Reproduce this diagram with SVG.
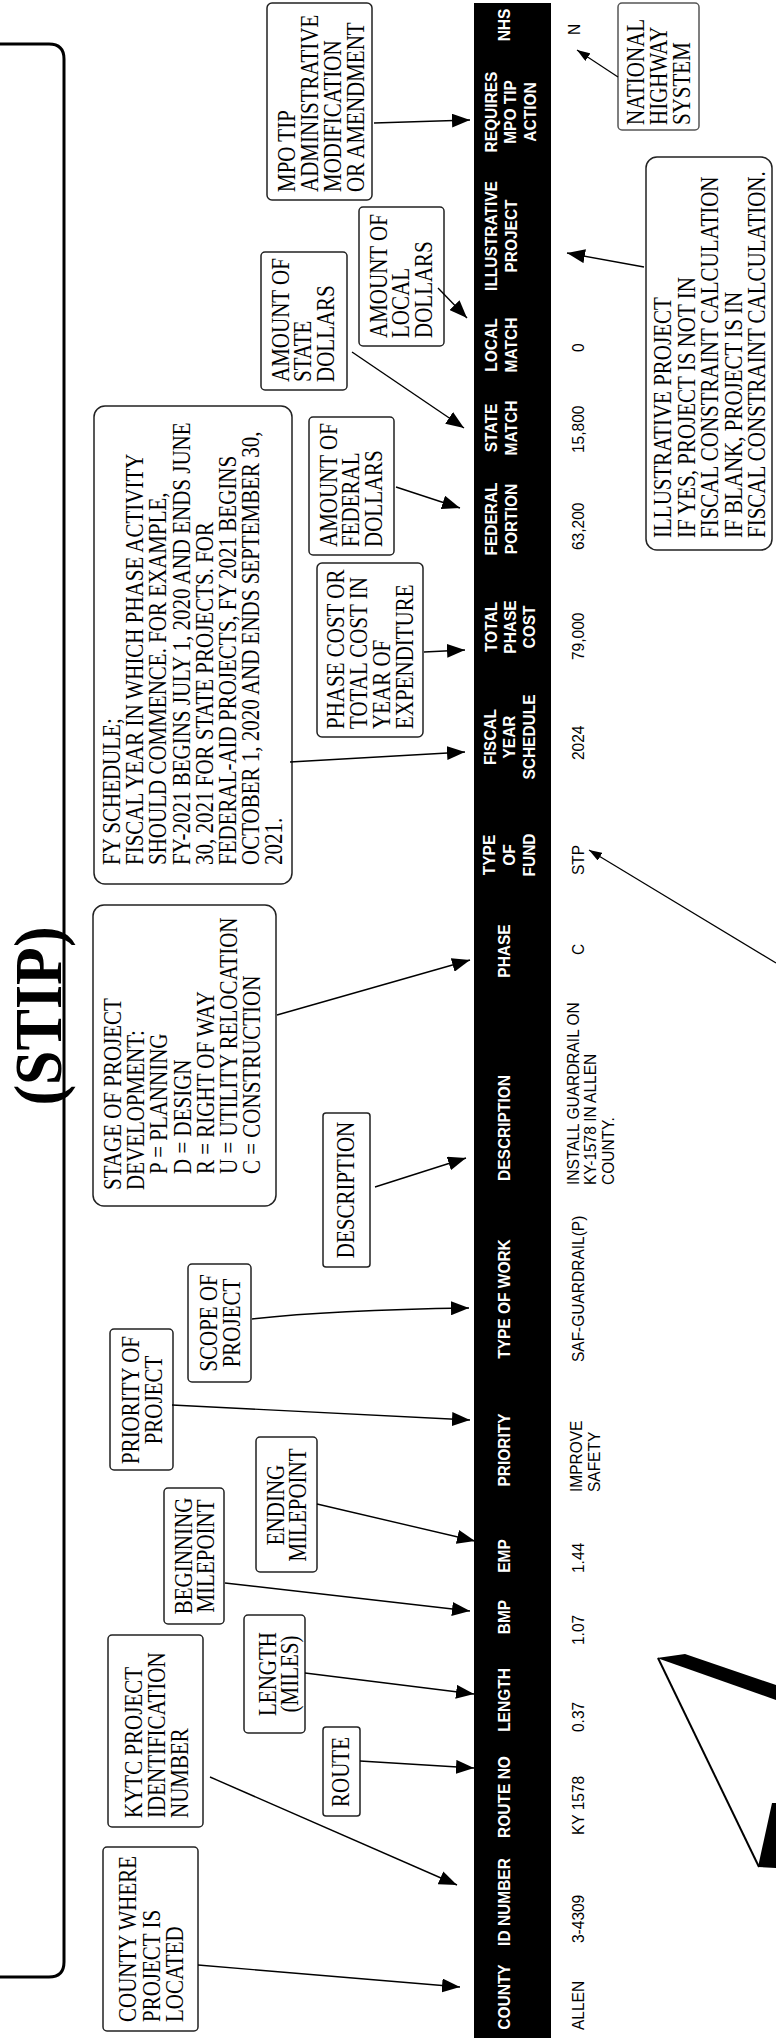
<svg xmlns="http://www.w3.org/2000/svg" width="776" height="2038" viewBox="0 0 776 2038">
<style>
.box{fill:#fff;stroke:#222;stroke-width:1.5}
.cl{font-family:"Liberation Serif","Times New Roman",serif;font-size:21px;fill:#000}
.hd{font-family:"Liberation Sans",Arial,sans-serif;font-size:15.5px;font-weight:bold;fill:#fff;text-anchor:middle}
.dt{font-family:"Liberation Sans",Arial,sans-serif;font-size:15.5px;fill:#000}
.cn{fill:none;stroke:#000;stroke-width:1.4}
.thin{fill:none;stroke:#000;stroke-width:1.2}
.mid{text-anchor:middle}
</style>
<defs>
<marker id="ah" markerUnits="userSpaceOnUse" markerWidth="18" markerHeight="14" refX="18" refY="7" orient="auto"><path d="M0,0 L18,7 L0,14 z" fill="#000"/></marker>
<marker id="ahs" markerUnits="userSpaceOnUse" markerWidth="13" markerHeight="9" refX="13" refY="4.5" orient="auto"><path d="M0,0 L13,4.5 L0,9 z" fill="#000"/></marker>
</defs>
<rect width="776" height="2038" fill="#fff"/>

<g id="frame">
<path d="M0,44 H49 Q64,44 64,59 V1962 Q64,1977 49,1977 H0" fill="none" stroke="#000" stroke-width="3"/>
<text transform="translate(61,1016) rotate(-90) scale(1,1.08)" text-anchor="middle" font-family="Liberation Serif,'Times New Roman',serif" font-weight="bold" font-size="62">(STIP)</text>
</g>

<g id="header-bar">
<rect x="474" y="3" width="77" height="2035" fill="#000"/>
<text class="hd" transform="translate(510,1997) rotate(-90) scale(1,1.1)">COUNTY</text>
<text class="hd" transform="translate(510,1902) rotate(-90) scale(1,1.1)">ID NUMBER</text>
<text class="hd" transform="translate(510,1797) rotate(-90) scale(1,1.1)">ROUTE NO</text>
<text class="hd" transform="translate(510,1700) rotate(-90) scale(1,1.1)">LENGTH</text>
<text class="hd" transform="translate(510,1617) rotate(-90) scale(1,1.1)">BMP</text>
<text class="hd" transform="translate(510,1556) rotate(-90) scale(1,1.1)">EMP</text>
<text class="hd" transform="translate(510,1450) rotate(-90) scale(1,1.1)">PRIORITY</text>
<text class="hd" transform="translate(510,1299) rotate(-90) scale(1,1.1)">TYPE OF WORK</text>
<text class="hd" transform="translate(510,1128) rotate(-90) scale(1,1.1)">DESCRIPTION</text>
<text class="hd" transform="translate(510,951) rotate(-90) scale(1,1.1)">PHASE</text>
<text class="hd" transform="translate(495,855) rotate(-90) scale(1,1.1)"><tspan x="0">TYPE</tspan><tspan x="0" dy="18.2">OF</tspan><tspan x="0" dy="18.2">FUND</tspan></text>
<text class="hd" transform="translate(496,737) rotate(-90) scale(1,1.1)"><tspan x="0">FISCAL</tspan><tspan x="0" dy="17.7">YEAR</tspan><tspan x="0" dy="17.7">SCHEDULE</tspan></text>
<text class="hd" transform="translate(497,627) rotate(-90) scale(1,1.1)"><tspan x="0">TOTAL</tspan><tspan x="0" dy="17.3">PHASE</tspan><tspan x="0" dy="17.3">COST</tspan></text>
<text class="hd" transform="translate(497,519) rotate(-90) scale(1,1.1)"><tspan x="0">FEDERAL</tspan><tspan x="0" dy="18.2">PORTION</tspan></text>
<text class="hd" transform="translate(497,428) rotate(-90) scale(1,1.1)"><tspan x="0">STATE</tspan><tspan x="0" dy="18.2">MATCH</tspan></text>
<text class="hd" transform="translate(497,345) rotate(-90) scale(1,1.1)"><tspan x="0">LOCAL</tspan><tspan x="0" dy="18.2">MATCH</tspan></text>
<text class="hd" transform="translate(497,236) rotate(-90) scale(1,1.1)"><tspan x="0">ILLUSTRATIVE</tspan><tspan x="0" dy="18.2">PROJECT</tspan></text>
<text class="hd" transform="translate(497,112) rotate(-90) scale(1,1.1)"><tspan x="0">REQUIRES</tspan><tspan x="0" dy="17.7">MPO TIP</tspan><tspan x="0" dy="17.7">ACTION</tspan></text>
<text class="hd" transform="translate(510,25) rotate(-90) scale(1,1.1)">NHS</text>
</g>

<g id="data-row">
<text class="dt" transform="translate(584,2030) rotate(-90) scale(1,1.1)">ALLEN</text>
<text class="dt" transform="translate(584,1943) rotate(-90) scale(1,1.1)">3-4309</text>
<text class="dt" transform="translate(584,1835) rotate(-90) scale(1,1.1)">KY 1578</text>
<text class="dt" transform="translate(584,1732) rotate(-90) scale(1,1.1)">0.37</text>
<text class="dt" transform="translate(584,1645) rotate(-90) scale(1,1.1)">1.07</text>
<text class="dt" transform="translate(584,1573) rotate(-90) scale(1,1.1)">1.44</text>
<text class="dt" transform="translate(582,1492) rotate(-90) scale(1,1.1)"><tspan x="0">IMPROVE</tspan><tspan x="0" dy="16.4">SAFETY</tspan></text>
<text class="dt" transform="translate(584,1362) rotate(-90) scale(1,1.1)">SAF-GUARDRAIL(P)</text>
<text class="dt" transform="translate(579,1185) rotate(-90) scale(1,1.1)"><tspan x="0">INSTALL GUARDRAIL ON</tspan><tspan x="0" dy="15.9">KY-1578 IN ALLEN</tspan><tspan x="0" dy="15.9">COUNTY.</tspan></text>
<text class="dt" transform="translate(584,955) rotate(-90) scale(1,1.1)">C</text>
<text class="dt" transform="translate(584,875) rotate(-90) scale(1,1.1)">STP</text>
<text class="dt" transform="translate(584,760) rotate(-90) scale(1,1.1)">2024</text>
<text class="dt" transform="translate(584,660) rotate(-90) scale(1,1.1)">79,000</text>
<text class="dt" transform="translate(584,550) rotate(-90) scale(1,1.1)">63,200</text>
<text class="dt" transform="translate(584,453) rotate(-90) scale(1,1.1)">15,800</text>
<text class="dt" transform="translate(584,352) rotate(-90) scale(1,1.1)">0</text>
<text class="dt" transform="translate(580,35) rotate(-90) scale(1,1.1)">N</text>
</g>

<g id="note-county">
<rect class="box" x="103" y="1847" width="95" height="184" rx="4"/>
<text class="cl" transform="translate(136,2022) rotate(-90) scale(1,1.17)"><tspan x="0">COUNTY WHERE</tspan><tspan x="0" dy="20.1">PROJECT IS</tspan><tspan x="0" dy="20.1">LOCATED</tspan></text>
</g>
<g id="note-kytc">
<rect class="box" x="108" y="1635" width="95" height="192" rx="4"/>
<text class="cl" transform="translate(142,1818) rotate(-90) scale(1,1.17)"><tspan x="0">KYTC PROJECT</tspan><tspan x="0" dy="19.66">IDENTIFICATION</tspan><tspan x="0" dy="19.66">NUMBER</tspan></text>
</g>
<g id="note-route">
<rect class="box" x="323" y="1727" width="37" height="89" rx="3"/>
<text class="cl mid" transform="translate(349,1772) rotate(-90) scale(1,1.17)">ROUTE</text>
</g>
<g id="note-length">
<rect class="box" x="244" y="1615" width="61" height="118" rx="4"/>
<text class="cl mid" transform="translate(276,1674) rotate(-90) scale(1,1.17)"><tspan x="0">LENGTH</tspan><tspan x="0" dy="18.8">(MILES)</tspan></text>
</g>
<g id="note-bmp">
<rect class="box" x="164" y="1488" width="60" height="136" rx="4"/>
<text class="cl mid" transform="translate(192,1556) rotate(-90) scale(1,1.17)"><tspan x="0">BEGINNING</tspan><tspan x="0" dy="18.8">MILEPOINT</tspan></text>
</g>
<g id="note-emp">
<rect class="box" x="256" y="1437" width="61" height="135" rx="4"/>
<text class="cl mid" transform="translate(284,1505) rotate(-90) scale(1,1.17)"><tspan x="0">ENDING</tspan><tspan x="0" dy="18.8">MILEPOINT</tspan></text>
</g>
<g id="note-priority">
<rect class="box" x="110" y="1329" width="63" height="141" rx="4"/>
<text class="cl mid" transform="translate(139,1400) rotate(-90) scale(1,1.17)"><tspan x="0">PRIORITY OF</tspan><tspan x="0" dy="19.66">PROJECT</tspan></text>
</g>
<g id="note-scope">
<rect class="box" x="188" y="1264" width="63" height="118" rx="4"/>
<text class="cl mid" transform="translate(217,1323) rotate(-90) scale(1,1.17)"><tspan x="0">SCOPE OF</tspan><tspan x="0" dy="19.66">PROJECT</tspan></text>
</g>
<g id="note-description">
<rect class="box" x="323" y="1113" width="47" height="154" rx="3"/>
<text class="cl mid" transform="translate(354,1190) rotate(-90) scale(1,1.17)">DESCRIPTION</text>
</g>
<g id="note-stage">
<rect class="box" x="93" y="905" width="183" height="301" rx="11"/>
<text class="cl" transform="translate(121,1190) rotate(-90) scale(1,1.17)"><tspan x="0">STAGE OF PROJECT</tspan><tspan x="0" dy="19.83">DEVELOPMENT:</tspan><tspan x="16" dy="19.83">P = PLANNING</tspan><tspan x="16" dy="19.83">D = DESIGN</tspan><tspan x="16" dy="19.83">R = RIGHT OF WAY</tspan><tspan x="16" dy="19.83">U = UTILITY RELOCATION</tspan><tspan x="16" dy="19.83">C = CONSTRUCTION</tspan></text>
</g>
<g id="note-fy">
<rect class="box" x="94" y="406" width="198" height="478" rx="11"/>
<text class="cl" transform="translate(120,865) rotate(-90) scale(1,1.17)"><tspan x="0">FY SCHEDULE;</tspan><tspan x="0" dy="19.83">FISCAL YEAR IN WHICH PHASE ACTIVITY</tspan><tspan x="0" dy="19.83">SHOULD COMMENCE. FOR EXAMPLE,</tspan><tspan x="0" dy="19.83">FY-2021 BEGINS JULY 1, 2020 AND ENDS JUNE</tspan><tspan x="0" dy="19.83">30, 2021 FOR STATE PROJECTS.  FOR</tspan><tspan x="0" dy="19.83">FEDERAL-AID PROJECTS, FY 2021 BEGINS</tspan><tspan x="0" dy="19.83">OCTOBER 1, 2020 AND ENDS SEPTEMBER 30,</tspan><tspan x="0" dy="19.83">2021.</tspan></text>
</g>
<g id="note-phasecost">
<rect class="box" x="317" y="563" width="106" height="174" rx="5"/>
<text class="cl" transform="translate(344,729) rotate(-90) scale(1,1.17)"><tspan x="0">PHASE COST OR</tspan><tspan x="0" dy="19.66">TOTAL COST IN</tspan><tspan x="0" dy="19.66">YEAR OF</tspan><tspan x="0" dy="19.66">EXPENDITURE</tspan></text>
</g>
<g id="note-federal">
<rect class="box" x="309" y="417" width="85" height="138" rx="4"/>
<text class="cl" transform="translate(337,547) rotate(-90) scale(1,1.17)"><tspan x="0">AMOUNT OF</tspan><tspan x="0" dy="19.23">FEDERAL</tspan><tspan x="0" dy="19.23">DOLLARS</tspan></text>
</g>
<g id="note-state">
<rect class="box" x="261" y="252" width="86" height="138" rx="4"/>
<text class="cl" transform="translate(289,382) rotate(-90) scale(1,1.17)"><tspan x="0">AMOUNT OF</tspan><tspan x="0" dy="19.23">STATE</tspan><tspan x="0" dy="19.23">DOLLARS</tspan></text>
</g>
<g id="note-local">
<rect class="box" x="359" y="207" width="85" height="139" rx="4"/>
<text class="cl" transform="translate(387,338) rotate(-90) scale(1,1.17)"><tspan x="0">AMOUNT OF</tspan><tspan x="0" dy="19.23">LOCAL</tspan><tspan x="0" dy="19.23">DOLLARS</tspan></text>
</g>
<g id="note-mpo">
<rect class="box" x="267" y="3" width="105" height="197" rx="5"/>
<text class="cl" transform="translate(295,192) rotate(-90) scale(1,1.17)"><tspan x="0">MPO TIP</tspan><tspan x="0" dy="19.66">ADMINISTRATIVE</tspan><tspan x="0" dy="19.66">MODIFICATION</tspan><tspan x="0" dy="19.66">OR AMENDMENT</tspan></text>
</g>
<g id="note-illustrative">
<rect class="box" x="646" y="157" width="126" height="393" rx="11"/>
<text class="cl" transform="translate(671,538) rotate(-90) scale(1,1.17)"><tspan x="0">ILLUSTRATIVE PROJECT</tspan><tspan x="0" dy="20.1">IF YES, PROJECT IS NOT IN</tspan><tspan x="0" dy="20.1">FISCAL CONSTRAINT CALCULATION</tspan><tspan x="0" dy="20.1">IF BLANK, PROJECT IS IN</tspan><tspan x="0" dy="20.1">FISCAL CONSTRAINT CALCULATION.</tspan></text>
</g>
<g id="note-nhs">
<rect class="box" x="618" y="3" width="81" height="127" rx="4" style="stroke:#555"/>
<text class="cl" transform="translate(644,125) rotate(-90) scale(1,1.17)"><tspan x="0">NATIONAL</tspan><tspan x="0" dy="19.66">HIGHWAY</tspan><tspan x="0" dy="19.66">SYSTEM</tspan></text>
</g>

<g id="connectors">
<path class="cn" d="M198,1965 L460,1987" marker-end="url(#ah)"/>
<path class="cn" d="M210,1777 L457,1885" marker-end="url(#ah)"/>
<path class="cn" d="M360,1761 L474,1768" marker-end="url(#ah)"/>
<path class="cn" d="M305,1673 L474,1694" marker-end="url(#ah)"/>
<path class="cn" d="M225,1583 L470,1611" marker-end="url(#ah)"/>
<path class="cn" d="M317,1504 L475,1541" marker-end="url(#ah)"/>
<path class="cn" d="M172,1405 L470,1420" marker-end="url(#ah)"/>
<path class="cn" d="M252,1319 Q330,1310 469,1308" marker-end="url(#ah)"/>
<path class="cn" d="M375,1187 L466,1158" marker-end="url(#ah)"/>
<path class="cn" d="M277,1015 L470,960" marker-end="url(#ah)"/>
<path class="cn" d="M290,762 L465,752" marker-end="url(#ah)"/>
<path class="cn" d="M424,652 L465,650" marker-end="url(#ah)"/>
<path class="cn" d="M396,487 L460,508" marker-end="url(#ah)"/>
<path class="cn" d="M352,352 L464,428" marker-end="url(#ah)"/>
<path class="cn" d="M438,288 L467,318" marker-end="url(#ah)"/>
<path class="cn" d="M374,123 L470,120" marker-end="url(#ah)"/>
<path class="cn" d="M644,267 L567,253" marker-end="url(#ah)"/>
<path class="thin" d="M618,77 L577,50" marker-end="url(#ahs)"/>
<path class="thin" d="M776,963 L589,850" marker-end="url(#ahs)"/>
</g>

<g id="big-arrow">
<polygon points="657,1658 685,1654 776,1685 776,1700" fill="#000"/>
<line x1="658" y1="1658" x2="759" y2="1867" stroke="#000" stroke-width="2"/>
<polygon points="758,1867 776,1868 776,1803 772,1803" fill="#000"/>
</g>
</svg>
